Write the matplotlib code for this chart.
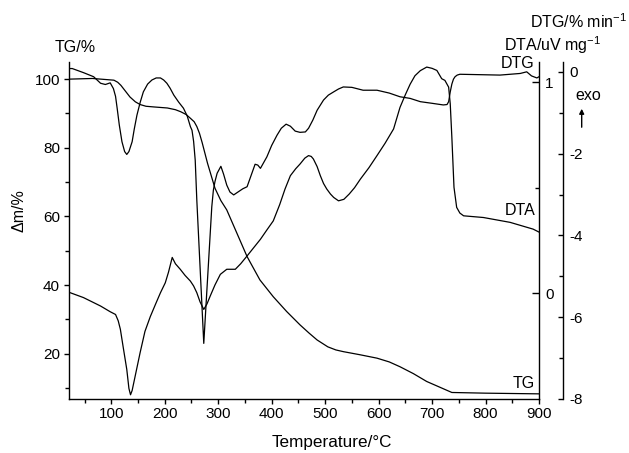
import numpy as np
import matplotlib
matplotlib.use("Agg")
import matplotlib.pyplot as plt
from matplotlib.ticker import FixedLocator

plt.rcParams['font.family'] = ['Liberation Sans', 'DejaVu Sans']
plt.rcParams['font.size'] = 11
plt.rcParams['mathtext.fontset'] = 'custom'
plt.rcParams['mathtext.rm'] = 'Liberation Sans'
plt.rcParams['mathtext.it'] = 'Liberation Sans:italic'

# TG mass curve, % (left axis)
tg_temp = [20, 65, 105, 112, 118, 125, 135, 145, 154, 165, 180, 205, 220, 230,
           240, 248, 255, 260, 265, 270, 280, 294, 305, 316, 335, 354, 378,
           403, 428, 453, 470, 485, 505, 520, 534, 565, 597, 620, 640, 665,
           690, 715, 737, 800, 900]
tg_mass = [100.0, 100.2, 99.7, 99.1, 98.2, 96.8, 94.8, 93.4, 92.6, 92.1, 91.9,
           91.6, 91.1, 90.5, 89.7, 88.6, 87.6, 86.2, 84.2, 81.5, 75.5, 68.2,
           64.6, 61.9, 55.1, 48.3, 41.5, 36.6, 32.3, 28.4, 26.0, 24.0, 22.0,
           21.1, 20.6, 19.7, 18.7, 17.6, 16.2, 14.2, 11.9, 10.2, 8.7, 8.5, 8.3]

# DTG, %/min (outer right axis)
dtg_temp = [20, 27, 48, 67, 80, 89, 98, 104, 108, 111, 115, 120, 125, 129, 133,
            139, 143, 148, 154, 160, 168, 176, 184, 192, 198, 204, 210, 217,
            226, 235, 242, 248, 251, 254, 257, 260, 273, 288, 291, 294, 298,
            305, 310, 316, 322, 329, 338, 346, 354, 363, 369, 374, 379, 391,
            400, 410, 418, 427, 435, 444, 453, 463, 469, 477, 485, 497, 506,
            516, 525, 534, 550, 571, 597, 620, 640, 659, 678, 700, 721, 728,
            731, 734, 737, 740, 743, 747, 752, 790, 827, 865, 877, 886, 896,
            900]
dtg_rate = [0.08, 0.08, -0.02, -0.12, -0.28, -0.31, -0.27, -0.41, -0.60,
            -0.89, -1.30, -1.71, -1.95, -2.02, -1.95, -1.71, -1.40, -1.06,
            -0.75, -0.49, -0.30, -0.20, -0.15, -0.15, -0.20, -0.28, -0.40,
            -0.57, -0.74, -0.89, -1.08, -1.34, -1.43, -1.70, -2.16, -3.14,
            -6.64, -3.30, -2.89, -2.68, -2.48, -2.31, -2.50, -2.77, -2.94,
            -3.01, -2.93, -2.86, -2.81, -2.48, -2.26, -2.28, -2.36, -2.08,
            -1.80, -1.55, -1.38, -1.28, -1.33, -1.45, -1.48, -1.47, -1.38,
            -1.18, -0.94, -0.69, -0.57, -0.49, -0.42, -0.37, -0.38, -0.45,
            -0.45, -0.52, -0.61, -0.65, -0.73, -0.77, -0.81, -0.80, -0.73,
            -0.49, -0.30, -0.18, -0.12, -0.08, -0.06, -0.07, -0.08, -0.04,
            0.0, -0.10, -0.15, -0.12]

# DTA, uV/mg (inner right axis)
dta_temp = [20, 48, 80, 98, 108, 113, 117, 122, 129, 133, 136, 139, 144, 149,
            154, 163, 173, 183, 192, 201, 207, 214, 220, 229, 238, 248, 254,
            260, 266, 273, 279, 285, 294, 304, 316, 332, 342, 354, 366, 379,
            391, 403, 415, 425, 435, 445, 453, 462, 469, 474, 478, 485, 491,
            497, 503, 510, 516, 525, 535, 545, 555, 566, 582, 597, 612, 628,
            640, 650, 659, 668, 678, 690, 700, 709, 718, 724, 731, 734, 737,
            741, 746, 752, 759, 796, 846, 889, 900]
dta_signal = [0.006, -0.02, -0.06, -0.087, -0.10, -0.13, -0.17, -0.25, -0.36,
              -0.45, -0.48, -0.46, -0.40, -0.34, -0.28, -0.18, -0.11, -0.05,
              0.003, 0.05, 0.10, 0.17, 0.14, 0.114, 0.085, 0.058, 0.035, 0.003,
              -0.04, -0.076, -0.05, -0.013, 0.04, 0.09, 0.114, 0.114, 0.14,
              0.177, 0.215, 0.256, 0.30, 0.343, 0.42, 0.494, 0.557, 0.59,
              0.612, 0.64, 0.652, 0.648, 0.636, 0.60, 0.557, 0.52, 0.494,
              0.47, 0.454, 0.438, 0.445, 0.47, 0.50, 0.541, 0.595, 0.652,
              0.71, 0.778, 0.88, 0.94, 0.99, 1.03, 1.054, 1.071, 1.065, 1.055,
              1.016, 1.008, 0.976, 0.897, 0.739, 0.502, 0.407, 0.38, 0.367,
              0.359, 0.336, 0.304, 0.29]

x_major = [100, 200, 300, 400, 500, 600, 700, 800, 900]
x_minor = [50, 150, 250, 350, 450, 550, 650, 750, 850]
tg_major = [20, 40, 60, 80, 100]
tg_minor = [10, 30, 50, 70, 90]
dta_major = [0, 1]
dta_minor = [0.5]
dtg_major = [0, -2, -4, -6, -8]
dtg_minor = [-1, -3, -5, -7]

W, H = 629, 453
fig = plt.figure(figsize=(W / 100, H / 100), dpi=100)
ax = fig.add_axes([68.5 / W, 1 - 399 / H, 470.5 / W, 337 / H])
ax_dta = ax.twinx()
ax_dtg = ax.twinx()

lw = 0.9
ax.plot(tg_temp, tg_mass, color='black', lw=lw)
ax_dta.plot(dta_temp, dta_signal, color='black', lw=lw)
ax_dtg.plot(dtg_temp, dtg_rate, color='black', lw=lw)

ax.set_xlim(20, 900)
ax.set_ylim(6.8, 105)
ax_dta.set_ylim(-0.5, 1.095)
ax_dtg.set_ylim(-8, 0.24)

for a in (ax, ax_dta, ax_dtg):
    a.spines['top'].set_visible(False)
    for s in a.spines.values():
        s.set_linewidth(1.0)
ax.spines['right'].set_visible(False)
ax_dta.spines['left'].set_visible(False)
ax_dtg.spines['left'].set_visible(False)
ax_dta.spines['bottom'].set_visible(False)
ax_dtg.spines['bottom'].set_visible(False)
ax_dtg.spines['right'].set_position(('axes', 494.8 / 470.5))

ax.xaxis.set_major_locator(FixedLocator(x_major))
ax.xaxis.set_minor_locator(FixedLocator(x_minor))
ax.yaxis.set_major_locator(FixedLocator(tg_major))
ax.yaxis.set_minor_locator(FixedLocator(tg_minor))
ax.tick_params(axis='both', which='major', direction='out', length=3.6,
               width=1.0, labelsize=11, pad=2.5)
ax.tick_params(axis='both', which='minor', direction='out', length=3.2,
               width=1.0)

ax_dta.yaxis.set_major_locator(FixedLocator(dta_major))
ax_dta.yaxis.set_minor_locator(FixedLocator(dta_minor))
ax_dta.set_yticklabels(['0', '1'])
ax_dta.tick_params(axis='y', which='major', direction='in', length=5,
                   width=1.0, labelsize=11, pad=4.5)
ax_dta.tick_params(axis='y', which='minor', direction='in', length=3,
                   width=1.0)

ax_dtg.yaxis.set_major_locator(FixedLocator(dtg_major))
ax_dtg.yaxis.set_minor_locator(FixedLocator(dtg_minor))
ax_dtg.set_yticklabels(['0', '-2', '-4', '-6', '-8'])
ax_dtg.tick_params(axis='y', which='major', direction='in', length=3.6,
                   width=1.0, labelsize=11, pad=4.5)
ax_dtg.tick_params(axis='y', which='minor', direction='in', length=3,
                   width=1.0)


def put(px, py, s, **kw):
    fig.text(px / W, 1 - py / H, s, **kw)


put(55, 48, 'TG/%', ha='left', va='center', fontsize=11.5)
put(19, 211, 'Δm/%', ha='center', va='center', rotation=90, fontsize=11.5)
put(332, 443, 'Temperature/°C', ha='center', va='center', fontsize=12.3)
put(627, 22, 'DTG/% min$^{-1}$', ha='right', va='center', fontsize=11.5)
put(601, 45, 'DTA/uV mg$^{-1}$', ha='right', va='center', fontsize=11.5)
put(534, 64, 'DTG', ha='right', va='center', fontsize=11.5)
put(535, 211, 'DTA', ha='right', va='center', fontsize=11.5)
put(535, 383, 'TG', ha='right', va='center', fontsize=11.5)
put(588, 96, 'exo', ha='center', va='center', fontsize=11.5)
fig.add_artist(matplotlib.patches.FancyArrowPatch(
    (581.7 / W, 1 - 130 / H), (581.7 / W, 1 - 106 / H),
    transform=fig.transFigure, arrowstyle='-|>', mutation_scale=7,
    lw=1.0, color='black'))

fig.savefig('out.png', dpi=100)
